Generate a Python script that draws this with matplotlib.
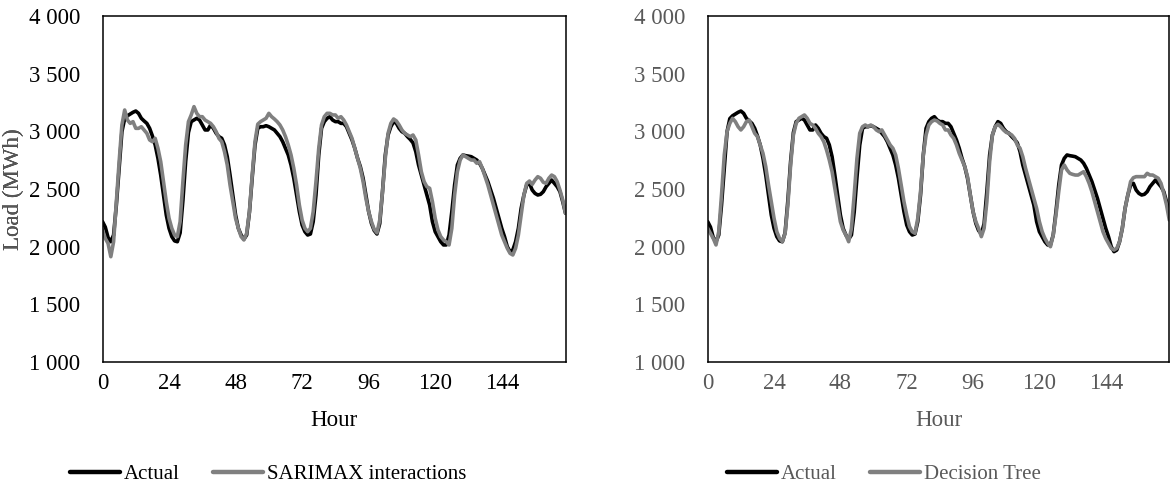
import matplotlib
matplotlib.use("Agg")
import matplotlib.pyplot as plt
from matplotlib.ticker import FuncFormatter

plt.rcParams["font.family"] = ["Liberation Serif", "DejaVu Serif"]

hours = list(range(168))

actual = [
    2217, 2170, 2080, 2043, 2101, 2361, 2679, 2997, 3110, 3135, 3150, 3165,
    3176, 3156, 3113, 3090, 3069, 3026, 2960, 2882, 2766, 2621, 2448, 2275,
    2159, 2087, 2050, 2043, 2120, 2400, 2740, 2990, 3084, 3098, 3113, 3098,
    3055, 3012, 3012, 3055, 3026, 2983, 2954, 2940, 2882, 2780, 2621, 2448,
    2275, 2159, 2101, 2065, 2101, 2300, 2600, 2880, 3026, 3040, 3040, 3049,
    3040, 3026, 3012, 2983, 2954, 2910, 2853, 2795, 2708, 2593, 2448, 2304,
    2188, 2130, 2101, 2110, 2217, 2448, 2795, 3026, 3084, 3113, 3127, 3098,
    3084, 3084, 3069, 3069, 3040, 2983, 2925, 2853, 2766, 2694, 2593, 2448,
    2304, 2202, 2140, 2110, 2200, 2480, 2795, 2968, 3040, 3084, 3069, 3026,
    2997, 2983, 2954, 2930, 2900, 2824, 2708, 2621, 2535, 2448, 2361, 2217,
    2130, 2087, 2043, 2015, 2015, 2101, 2304, 2535, 2708, 2766, 2795, 2789,
    2785, 2780, 2766, 2751, 2723, 2679, 2621, 2564, 2491, 2419, 2332, 2246,
    2159, 2087, 2000, 1957, 1971, 2043, 2159, 2332, 2448, 2535, 2549, 2491,
    2462, 2448, 2454, 2477, 2520, 2549, 2578, 2549, 2520, 2477, 2390, 2290,
]

sarimax = [
    2145, 2072, 2029, 1913, 2043, 2390, 2737, 3055, 3185, 3098, 3069, 3084,
    3026, 3026, 3040, 3012, 2983, 2925, 2910, 2939, 2853, 2737, 2564, 2390,
    2246, 2159, 2101, 2087, 2217, 2564, 2882, 3084, 3142, 3214, 3156, 3127,
    3127, 3098, 3084, 3069, 3040, 2997, 2939, 2910, 2824, 2708, 2535, 2390,
    2246, 2159, 2087, 2058, 2116, 2304, 2621, 2910, 3062, 3084, 3098, 3113,
    3156, 3127, 3107, 3084, 3055, 3012, 2954, 2882, 2795, 2679, 2535, 2361,
    2231, 2159, 2130, 2159, 2304, 2564, 2853, 3055, 3127, 3156, 3156, 3142,
    3142, 3113, 3127, 3098, 3055, 2997, 2939, 2853, 2766, 2679, 2564, 2419,
    2304, 2217, 2150, 2120, 2231, 2477, 2766, 2983, 3069, 3107, 3090, 3055,
    3012, 2983, 2968, 2954, 2968, 2925, 2795, 2650, 2564, 2520, 2506, 2390,
    2246, 2145, 2087, 2058, 2043, 2015, 2159, 2448, 2650, 2751, 2795, 2780,
    2766, 2751, 2751, 2723, 2737, 2679, 2607, 2535, 2448, 2361, 2275, 2188,
    2101, 2043, 1986, 1942, 1928, 1986, 2101, 2275, 2448, 2549, 2569, 2540,
    2578, 2607, 2593, 2558, 2549, 2593, 2621, 2607, 2564, 2491, 2405, 2289,
]

decision_tree = [
    2159, 2116, 2072, 2015, 2130, 2448, 2795, 2997, 3069, 3113, 3084, 3040,
    3012, 3040, 3084, 3098, 3040, 2983, 2954, 2882, 2809, 2694, 2535, 2390,
    2246, 2130, 2072, 2043, 2116, 2361, 2708, 2968, 3069, 3113, 3127, 3142,
    3113, 3069, 3055, 3026, 2983, 2954, 2910, 2838, 2751, 2650, 2506, 2361,
    2217, 2145, 2101, 2043, 2159, 2448, 2766, 2983, 3040, 3055, 3040, 3055,
    3040, 3012, 2997, 3012, 2968, 2925, 2882, 2853, 2795, 2679, 2535, 2390,
    2275, 2174, 2130, 2116, 2246, 2477, 2795, 2968, 3055, 3084, 3098, 3090,
    3069, 3055, 3012, 3012, 2968, 2939, 2882, 2809, 2751, 2694, 2607, 2448,
    2304, 2217, 2159, 2087, 2159, 2390, 2737, 2968, 3040, 3061, 3040, 3012,
    2991, 2983, 2968, 2939, 2882, 2853, 2780, 2679, 2593, 2506, 2419, 2332,
    2217, 2130, 2072, 2029, 2000, 2101, 2275, 2477, 2665, 2708, 2665, 2636,
    2627, 2621, 2621, 2636, 2650, 2607, 2549, 2477, 2390, 2304, 2217, 2130,
    2072, 2029, 1986, 1971, 1986, 2043, 2159, 2332, 2448, 2564, 2598, 2607,
    2607, 2607, 2607, 2636, 2621, 2621, 2607, 2593, 2549, 2462, 2361, 2231,
]

x_ticks = [0, 24, 48, 72, 96, 120, 144]
y_ticks = [1000, 1500, 2000, 2500, 3000, 3500, 4000]

panels = [
    ("SARIMAX interactions", sarimax, "black"),
    ("Decision Tree", decision_tree, "#595959"),
]

TICK_FS = 16.5
TITLE_FS = 16.5
LEG_FS = 15
W, H = 1172, 490
fig = plt.figure(figsize=(W / 100, H / 100), dpi=100)

# axes placement in pixels: (left edge, width)
axes_px = [(102.5, 463), (707.7, 461.6)]
legend_cx = [268, 884]
bottom_px, top_px = 362, 16


def thousands(v, _pos):
    return f"{int(v):,}".replace(",", " ")


for (name, forecast, txt_color), (left, width), lcx in zip(panels, axes_px, legend_cx):
    ax = fig.add_axes([left / W, (H - bottom_px) / H, width / W,
                       (bottom_px - top_px) / H])
    ax.plot(hours, actual, color="black", lw=2.6, solid_joinstyle="round",
            solid_capstyle="round", label="Actual")
    ax.plot(hours, forecast, color="#808080", lw=2.6, solid_joinstyle="round",
            solid_capstyle="round", label=name)
    ax.set_xlim(0, 167)
    ax.set_ylim(1000, 4000)
    ax.set_xticks(x_ticks)
    ax.set_yticks(y_ticks)
    ax.yaxis.set_major_formatter(FuncFormatter(thousands))
    ax.tick_params(axis="both", length=0, labelsize=TICK_FS, labelcolor=txt_color)
    ax.tick_params(axis="y", pad=16)
    ax.tick_params(axis="x", pad=8)
    for sp in ax.spines.values():
        sp.set_color("black")
        sp.set_linewidth(1.1)
    ax.set_xlabel("Hour", fontsize=TITLE_FS, color=txt_color)
    ax.set_ylabel("Load (MWh)", fontsize=TITLE_FS, color=txt_color)
    ax.xaxis.set_label_coords(0.5, (bottom_px - 421) / (bottom_px - top_px))
    ax.xaxis.label.set_va("center")
    ax.yaxis.set_label_coords((13 - left) / width, 0.5)
    ax.yaxis.label.set_va("center")
    ax.yaxis.label.set_ha("center")

    handles, labels = ax.get_legend_handles_labels()
    leg = fig.legend(handles, labels, loc="center", ncol=2, frameon=False,
                     bbox_to_anchor=(lcx / W, (H - 474) / H), fontsize=LEG_FS,
                     handlelength=2.4, handletextpad=0.2, columnspacing=1.6,
                     labelcolor=txt_color)
    for line in leg.get_lines():
        line.set_linewidth(3.2)
        line.set_solid_capstyle("round")

fig.savefig("out.png", dpi=100)
